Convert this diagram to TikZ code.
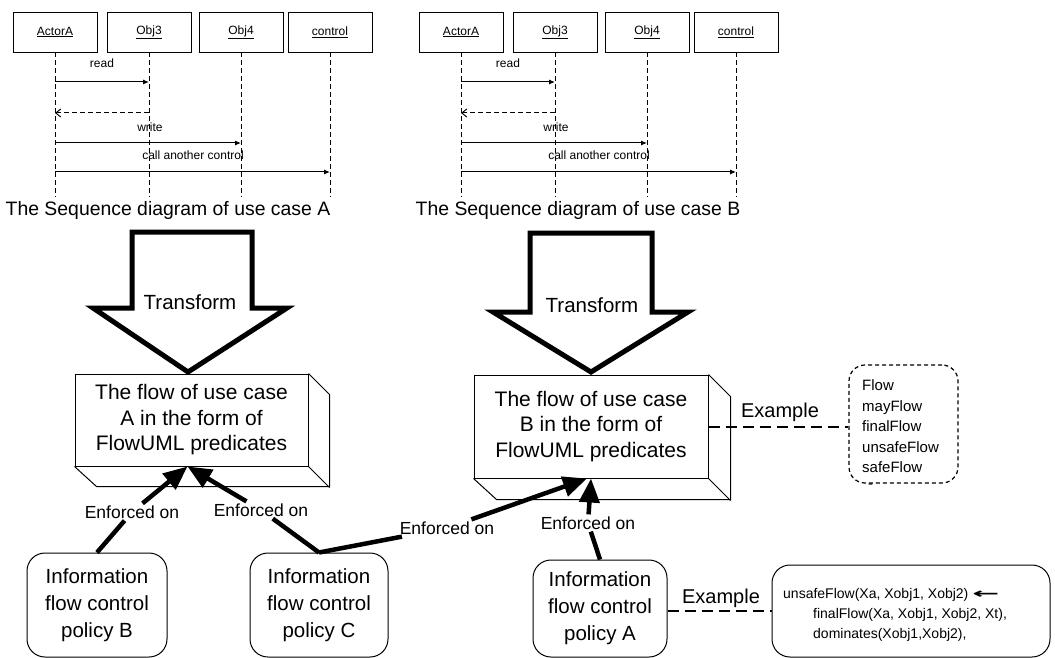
\documentclass[tikz,border=0pt]{standalone}
\usepackage{fontspec}
\setmainfont{Liberation Sans}
\newfontfamily\dejavu{DejaVu Sans}
\usetikzlibrary{arrows.meta}
\begin{document}
\begin{tikzpicture}[x=1pt,y=-1pt,
 seqbox/.style={draw,line width=0.9pt,minimum width=84pt,minimum height=40pt,inner sep=0pt,font=\fontsize{12}{14}\selectfont},
 life/.style={line width=0.9pt,dash pattern=on 5pt off 3pt},
 msg/.style={line width=1pt,-{Latex[length=6pt,width=5pt]}},
 ret/.style={line width=1pt,dash pattern=on 5pt off 3pt,-{Straight Barb[length=5pt,width=8pt]}},
 msglab/.style={font=\fontsize{12}{14}\selectfont,inner sep=1pt},
 capt/.style={font=\fontsize{19.4}{23}\selectfont,inner sep=0pt},
 bigarrow/.style={line width=5pt,line join=miter},
 tlab/.style={font=\fontsize{20.5}{24}\selectfont,inner sep=0pt},
 box3d/.style={draw,line width=1pt,align=center,inner sep=0pt,font=\fontsize{21}{25.5}\selectfont},
 side3d/.style={line width=1pt,line join=miter},
 pbox/.style={draw,line width=1pt,rounded corners=18pt,align=center,inner sep=0pt,font=\fontsize{20.5}{27}\selectfont},
 enflab/.style={font=\fontsize{17.5}{20}\selectfont,inner sep=2pt},
 enf/.style={line width=4.5pt,-{Triangle[length=24pt,width=20pt]}},
 enfseg/.style={line width=4.5pt},
 exlab/.style={font=\fontsize{20}{24}\selectfont,inner sep=1pt},
 exline/.style={line width=2pt,dash pattern=on 11pt off 6pt},
 dashbox/.style={draw,line width=1.2pt,dash pattern=on 4pt off 3pt,rounded corners=16pt,inner sep=0pt},
 itemtext/.style={font=\fontsize{15}{18}\selectfont,inner sep=0pt,anchor=base west},
 codeline/.style={font=\fontsize{14}{16}\selectfont,inner sep=0pt,anchor=base west},
]
\useasboundingbox (0,0) rectangle (1055,658);

% ---------- sequence diagrams ----------
\foreach \p/\dx/\cx in {A/0/168,B/406/578}{
  \node[seqbox] (\p a)  at (\dx+55,32)  {\underline{ActorA}};
  \node[seqbox] (\p o3) at (\dx+149,32) {\underline{Obj3}};
  \node[seqbox] (\p o4) at (\dx+241,32) {\underline{Obj4}};
  \node[seqbox] (\p c)  at (\dx+330,32) {\underline{control}};
  \coordinate (\p ae)  at (\dx+55,197);
  \coordinate (\p o3e) at (\dx+149,197);
  \coordinate (\p o4e) at (\dx+241,197);
  \coordinate (\p ce)  at (\dx+330,197);
  \draw[life] (\p a) -- (\p ae);
  \draw[life] (\p o3) -- (\p o3e);
  \draw[life] (\p o4) -- (\p o4e);
  \draw[life] (\p c) -- (\p ce);
  \draw[msg] (\p a |- 0,82) -- (\p o3 |- 0,82);
  \node[msglab] (\p l1) at (\dx+102,63) {read};
  \draw[ret] (\p o3 |- 0,113) -- (\p a |- 0,113);
  \draw[msg] (\p a |- 0,143) -- (\p o4 |- 0,143);
  \node[msglab] (\p l2) at (\dx+150,127) {write};
  \draw[msg] (\p a |- 0,172) -- (\p c |- 0,172);
  \node[msglab] (\p l3) at (\dx+193,155) {call another control};
  \node[capt] (\p cap) at (\cx,210) {The Sequence diagram of use case \p};
}

% ---------- transform arrows ----------
\draw[bigarrow] (132,232) -- (252,232) -- (252,308) -- (287,308) -- (188,372) -- (93,308) -- (132,308) -- cycle;
\node[tlab] (trA) at (190,302) {Transform};
\draw[bigarrow] (530,233) -- (652,233) -- (652,312) -- (688,312) -- (591,372) -- (493,312) -- (530,312) -- cycle;
\node[tlab] (trB) at (592,305) {Transform};

% ---------- 3D boxes ----------
\node[box3d,minimum width=233pt,minimum height=92pt] (boxA) at (191.5,420)
  {The flow of use case\\A in the form of\\FlowUML predicates};
\draw[side3d] (boxA.north east) -- ++(21,21) -- ++(0,92) -- ++(-233,0) -- (boxA.south west);
\draw[side3d] (boxA.south east) -- ++(21,21);

\node[box3d,minimum width=234pt,minimum height=103pt] (boxB) at (591,426.5)
  {The flow of use case\\B in the form of\\FlowUML predicates};
\draw[side3d] (boxB.north east) -- ++(22,22) -- ++(0,103) -- ++(-234,0) -- (boxB.south west);
\draw[side3d] (boxB.south east) -- ++(22,22);

% ---------- policy boxes ----------
\node[pbox,minimum width=140pt,minimum height=104pt] (polB) at (97,605)
  {Information\\flow control\\policy B};
\node[pbox,minimum width=138pt,minimum height=104pt] (polC) at (319,605)
  {Information\\flow control\\policy C};
\node[pbox,minimum width=134pt,minimum height=97pt] (polA) at (600,608.5)
  {Information\\flow control\\policy A};

% ---------- enforced-on connectors ----------
\node[enflab] (labB1) at (132,512) {Enforced on};
\node[enflab] (labC1) at (261,510) {Enforced on};
\node[enflab] (labC2) at (447,528) {Enforced on};
\node[enflab] (labA)  at (588,523) {Enforced on};

\draw[enfseg] (polB.north) -- (labB1);
\draw[enf] (labB1) -- ([xshift=-4pt]boxA.south);
\draw[enfseg] (polC.north) -- (labC1);
\draw[enf] (labC1) -- ([xshift=-4pt]boxA.south);
\draw[enfseg] (polC.north) -- (labC2);
\draw[enf] (labC2) -- ([xshift=-4pt]boxB.south);
\draw[enfseg] (polA.north) -- (labA);
\draw[enf] (labA) -- (boxB.south);

% ---------- example: predicate list ----------
\node[dashbox,minimum width=109pt,minimum height=118pt] (plist) at (903.5,424) {};
\foreach \t/\yy in {Flow/390.5,mayFlow/411,finalFlow/431.5,unsafeFlow/452,safeFlow/472.5}{
  \node[itemtext] at (862,\yy) {\t};
}
\node[itemtext] (pdash) at (868,488) {-};
\node[exlab] (exB) at (780,412) {Example};
\draw[exline] (boxB.east) -- (boxB.east -| plist.west);

% ---------- example: policy rule ----------
\node[pbox,minimum width=278pt,minimum height=92pt] (rule) at (911,611) {};
\node[codeline] (r1) at (783,598) {unsafeFlow(Xa, Xobj1, Xobj2) {\dejavu\bfseries\scalebox{2.3}[1]{←}}};
\node[codeline] (r2) at (813,618) {finalFlow(Xa, Xobj1, Xobj2, Xt),};
\node[codeline] (r3) at (813,638) {dominates(Xobj1,Xobj2),};
\node[exlab] (exA) at (721,598) {Example};
\draw[exline] (rule.west -| polA.east) -- (rule.west);

\end{tikzpicture}
\end{document}
